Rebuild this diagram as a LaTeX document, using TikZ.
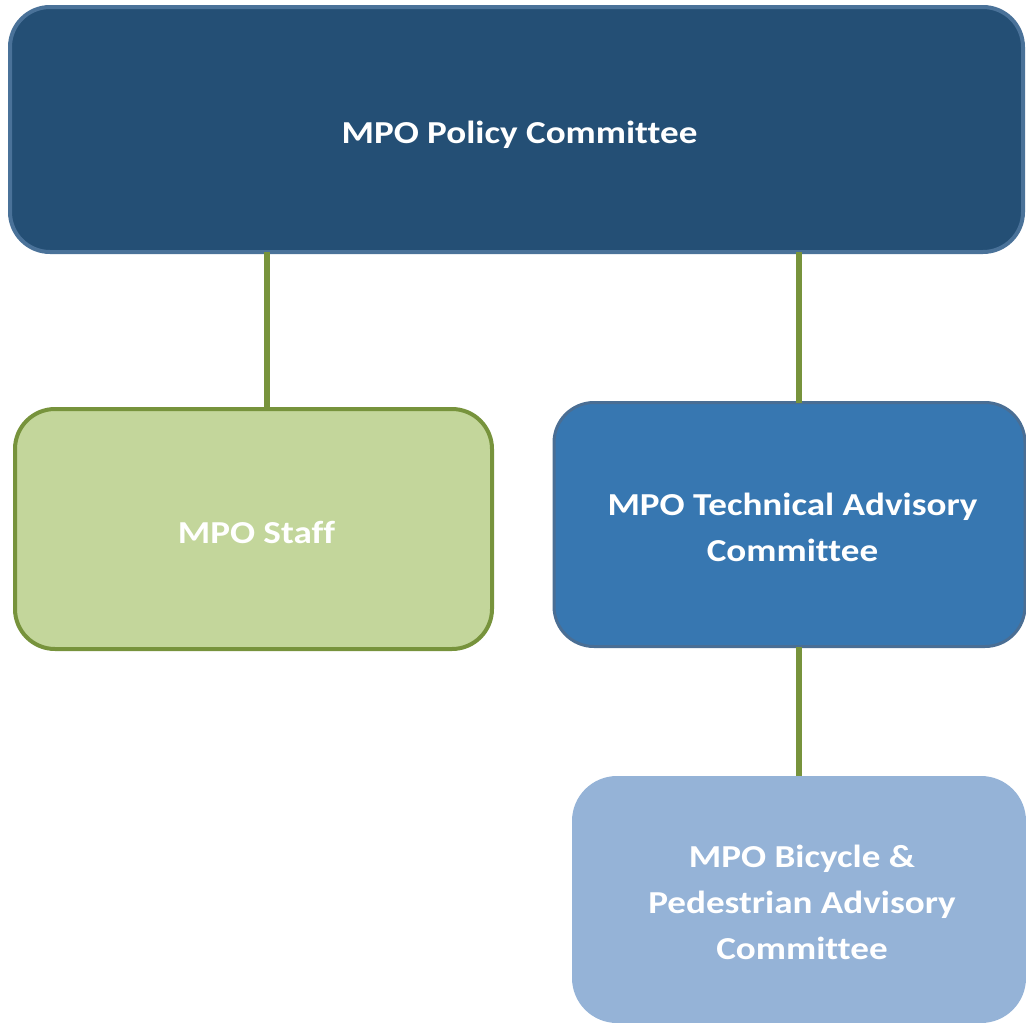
\documentclass[tikz,border=0pt]{standalone}
\usepackage{fontspec}
\setmainfont[Ligatures={NoCommon},FakeStretch=1.16]{Carlito}
\definecolor{topfill}{HTML}{244F75}
\definecolor{topline}{HTML}{4A7299}
\definecolor{stafffill}{HTML}{C3D69B}
\definecolor{green}{HTML}{77933C}
\definecolor{techfill}{HTML}{3777B1}
\definecolor{techline}{HTML}{4A6E94}
\definecolor{bikefill}{HTML}{95B3D7}
\newcommand\mytopstrut{\hspace*{6pt}\rule{0pt}{36pt}}
\newcommand\mybotstrut{\rule[-8pt]{0pt}{8pt}}
\newcommand\mylead{\hspace*{6pt}}
\begin{document}
\begin{tikzpicture}[x=1pt,y=-1pt,
  box/.style={rounded corners=40pt, align=center, text=white,
    font=\fontsize{32}{46}\selectfont\bfseries, inner sep=0pt},
  link/.style={draw=green, line width=6pt}]
\useasboundingbox (0,0) rectangle (1026,1023);
\node[box, fill=topfill, draw=topline, line width=4pt,
  minimum width=1013pt, minimum height=245pt] (top) at (516.5,129.5)
  {\mytopstrut MPO Policy Committee\mybotstrut};
\node[box, fill=stafffill, draw=green, line width=4pt,
  minimum width=477pt, minimum height=240pt] (staff) at (253.5,529)
  {\mytopstrut MPO Staff\mybotstrut};
\node[box, fill=techfill, draw=techline, line width=3pt,
  minimum width=471pt, minimum height=244pt] (tech) at (789.5,524.5)
  {\mytopstrut MPO Technical Advisory\\\mylead Committee\mybotstrut};
\node[box, fill=bikefill, rounded corners=45pt,
  minimum width=454pt, minimum height=247pt] (bike) at (799,899.5)
  {\mytopstrut MPO Bicycle \&\\\mylead Pedestrian Advisory\\\mylead Committee\mybotstrut};
\coordinate (cl) at (267,0);
\coordinate (cr) at (799,0);
\draw[link] ([yshift=2pt]top.south -| cl) -- ([yshift=-2pt]staff.north -| cl);
\draw[link] ([yshift=2pt]top.south -| cr) -- ([yshift=-1.5pt]tech.north -| cr);
\draw[link] ([yshift=1.5pt]tech.south -| cr) -- (bike.north -| cr);
\end{tikzpicture}
\end{document}
